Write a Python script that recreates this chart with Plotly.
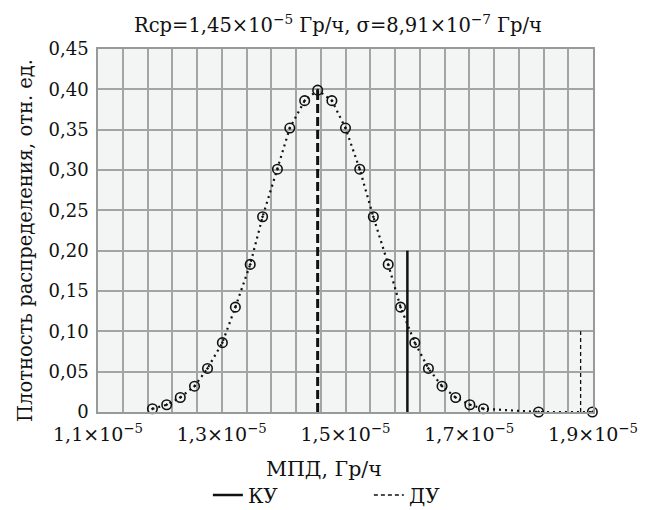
import plotly.graph_objects as go

# Data (x in units of 1e-5 Gy/h)
x_pts = [1.188, 1.211, 1.233, 1.256, 1.277, 1.301, 1.322, 1.346, 1.366, 1.390, 1.410,
         1.434, 1.455, 1.478, 1.500, 1.523, 1.545, 1.569, 1.589, 1.612, 1.634, 1.656,
         1.678, 1.701, 1.723, 1.812, 1.899]
y_pts = [0.004, 0.009, 0.018, 0.032, 0.054, 0.086, 0.130, 0.183, 0.242, 0.301, 0.352,
         0.386, 0.399, 0.386, 0.352, 0.301, 0.242, 0.183, 0.130, 0.086, 0.054, 0.032,
         0.018, 0.009, 0.004, 0.0, 0.0]
mean_x = [1.455, 1.455]
mean_y = [0.0, 0.399]
ku_x = [1.60, 1.60]
ku_y = [0.0, 0.20]
du_x = [1.88, 1.88]
du_y = [0.0, 0.10]

x_tick_vals = [round(1.1 + 0.04 * i, 2) for i in range(21)]
x_tick_labels = {1.1: "1,1×10<sup>−5</sup>", 1.3: "1,3×10<sup>−5</sup>", 1.5: "1,5×10<sup>−5</sup>",
                 1.7: "1,7×10<sup>−5</sup>", 1.9: "1,9×10<sup>−5</sup>"}
y_tick_vals = [0, 0.05, 0.10, 0.15, 0.20, 0.25, 0.30, 0.35, 0.40, 0.45]
y_tick_text = ["0", "0,05", "0,10", "0,15", "0,20", "0,25", "0,30", "0,35", "0,40", "0,45"]

FONT = "DejaVu Serif"
INK = "#111"
scale = 1e-5
OFF = 8  # page body margin
W, H = 646 - OFF, 510 - OFF

fig = go.Figure()
fig.add_trace(go.Scatter(
    x=[v * scale for v in x_pts], y=y_pts, mode="lines+markers",
    line=dict(color=INK, width=2.2, dash="2px,4px"),
    marker=dict(symbol="circle-open-dot", size=9.5, color=INK, line=dict(width=1.6, color=INK)),
    showlegend=False, cliponaxis=False))
fig.add_trace(go.Scatter(
    x=[v * scale for v in mean_x], y=mean_y, mode="lines",
    line=dict(color=INK, width=3, dash="9px,4px"), showlegend=False))
fig.add_trace(go.Scatter(
    x=[v * scale for v in ku_x], y=ku_y, mode="lines", name="КУ",
    line=dict(color=INK, width=2.5)))
fig.add_trace(go.Scatter(
    x=[v * scale for v in du_x], y=du_y, mode="lines", name="ДУ",
    line=dict(color=INK, width=1.3, dash="4px,3px")))

fig.update_layout(
    width=W, height=H,
    margin=dict(l=98 - OFF, r=646 - 593, t=49 - OFF, b=510 - 412, autoexpand=False),
    paper_bgcolor="white", plot_bgcolor="#f3f4f4",
    font=dict(family=FONT, size=18, color=INK),
    title=dict(text="Rcp=1,45×10<sup>−5</sup> Гр/ч, σ=8,91×10<sup>−7</sup> Гр/ч",
               x=(338 - OFF) / W, xref="container", xanchor="center",
               y=1 - (25 - OFF) / H, yref="container", yanchor="middle",
               font=dict(family=FONT, size=19.5, color=INK)),
    legend=dict(orientation="h", x=0.222, xanchor="left", y=(412 - 495) / 363, yanchor="middle",
                font=dict(family=FONT, size=20), entrywidth=116, entrywidthmode="pixels",
                bgcolor="rgba(0,0,0,0)"),
    xaxis=dict(range=[1.1e-5, 1.9e-5], tickvals=[v * scale for v in x_tick_vals],
               ticktext=[x_tick_labels.get(v, "") for v in x_tick_vals],
               tickfont=dict(family=FONT, size=19),
               showgrid=True, gridcolor="#a4a4a4", gridwidth=1.5,
               showline=True, linecolor="#999", linewidth=1.5, mirror=True,
               ticks="", zeroline=False, automargin=False, ticklabelstandoff=4),
    yaxis=dict(range=[0, 0.45], tickvals=y_tick_vals, ticktext=y_tick_text,
               tickfont=dict(family=FONT, size=18),
               showgrid=True, gridcolor="#a4a4a4", gridwidth=1.5,
               showline=True, linecolor="#999", linewidth=1.5, mirror=True,
               ticks="", zeroline=False, automargin=False, ticklabelstandoff=4),
    annotations=[
        dict(text="МПД, Гр/ч", xref="paper", yref="paper", x=(324 - 98) / 495,
             y=(412 - 469) / 363, xanchor="center", yanchor="middle", showarrow=False,
             font=dict(family=FONT, size=20.5, color=INK)),
        dict(text="Плотность распределения, отн. ед.", xref="paper", yref="paper",
             x=(25 - 98) / 495, y=(412 - 241) / 363, xanchor="center", yanchor="middle",
             textangle=-90, showarrow=False, font=dict(family=FONT, size=19.5, color=INK)),
    ],
)

fig.write_html("out.html")
